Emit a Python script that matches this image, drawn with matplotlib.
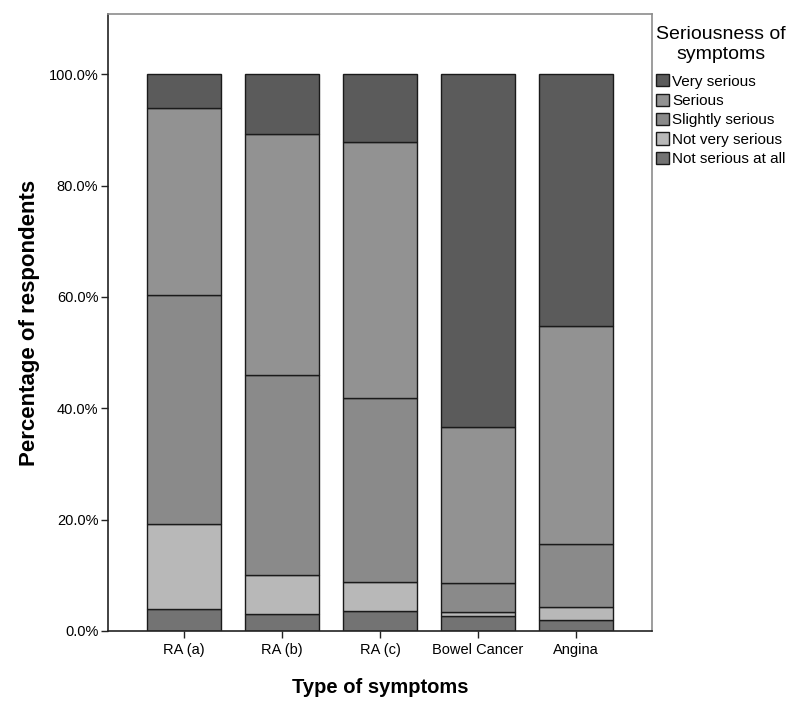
import matplotlib
matplotlib.use("Agg")
import matplotlib.pyplot as plt
import numpy as np
from matplotlib.patches import Patch
from matplotlib.ticker import FuncFormatter

plt.rcParams['font.family'] = ['Liberation Sans', 'DejaVu Sans']

categories = ["RA (a)", "RA (b)", "RA (c)", "Bowel Cancer", "Angina"]
# percentages of respondents (bottom to top)
not_serious_at_all = [4.0, 3.1, 3.5, 2.7, 1.9]
not_very_serious = [15.2, 6.9, 5.3, 0.7, 2.4]
slightly_serious = [41.1, 35.9, 33.1, 5.2, 11.4]
serious = [33.6, 43.3, 46.0, 28.1, 39.1]
very_serious = [6.1, 10.8, 12.1, 63.3, 45.2]

series = [
    ("Not serious at all", not_serious_at_all, "#737373"),
    ("Not very serious", not_very_serious, "#b8b8b8"),
    ("Slightly serious", slightly_serious, "#8a8a8a"),
    ("Serious", serious, "#929292"),
    ("Very serious", very_serious, "#5b5b5b"),
]

fig = plt.figure(figsize=(8, 7.1), dpi=100)
ax = fig.add_axes([0.135, 0.1113, 0.68, 0.8687])

x = np.arange(len(categories))
bottom = np.zeros(len(categories))
for name, vals, col in series:
    ax.bar(x, vals, bottom=bottom, width=0.755, color=col,
           edgecolor="#1a1a1a", linewidth=1.0, label=name, zorder=2)
    bottom += np.array(vals)

ax.set_xlim(-0.776, len(categories) - 1 + 0.776)
ax.set_ylim(0, 110.8)
ax.set_yticks([0, 20, 40, 60, 80, 100])
ax.yaxis.set_major_formatter(FuncFormatter(lambda v, p: f"{v:.1f}%"))
ax.set_xticks(x)
ax.set_xticklabels(categories)
ax.tick_params(axis='both', labelsize=10.5, length=5, width=1, color='#222222', direction='out')
ax.tick_params(axis='x', pad=4)
ax.tick_params(axis='y', pad=2)

for s in ['left', 'bottom']:
    ax.spines[s].set_color('#222222')
    ax.spines[s].set_linewidth(1.2)
for s in ['top', 'right']:
    ax.spines[s].set_color('#8c8c8c')
    ax.spines[s].set_linewidth(1.2)

ax.set_xlabel("Type of symptoms", fontsize=14.5, fontweight='bold', labelpad=15)
ax.set_ylabel("Percentage of respondents", fontsize=16, fontweight='bold', labelpad=6)

handles = [Patch(facecolor=col, edgecolor="#1a1a1a", linewidth=1.0, label=name)
           for name, vals, col in reversed(series)]
leg = fig.legend(handles=handles, title="Seriousness of\nsymptoms",
                 loc='upper left', bbox_to_anchor=(0.816, 0.967), frameon=False,
                 fontsize=11, title_fontsize=14, handlelength=0.85, handleheight=0.85,
                 handletextpad=0.2, labelspacing=0.33, borderaxespad=0, borderpad=0.2)
leg.get_title().set_multialignment('center')
leg.get_title().set_linespacing(1.2)
leg._legend_box.sep = 8

fig.savefig("out.png", dpi=100)
